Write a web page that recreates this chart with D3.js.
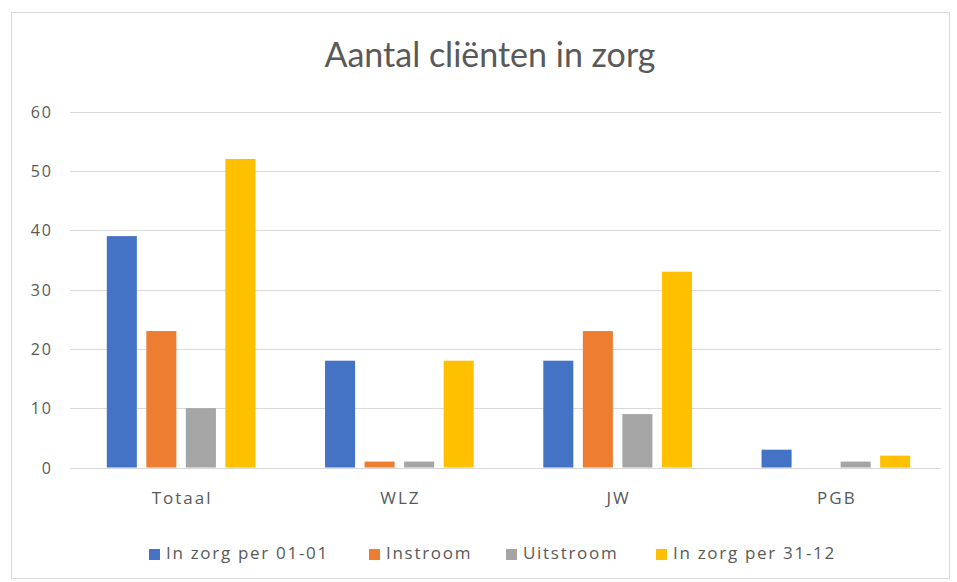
<!DOCTYPE html>
<html>
<head>
  <meta charset="utf-8">
  <title>Aantal cliënten in zorg</title>
  <script src="https://d3js.org/d3.v7.min.js"></script>
  <style>
    html, body {
      margin: 0;
      padding: 0;
      background: #fff;
    }
    .text {
      font-family: "Open Sans", sans-serif;
      fill: #595959;
    }
    .title {
      font-family: Lato, "Open Sans", sans-serif;
      fill: #595959;
    }
  </style>
</head>
<body>
  <svg id="chart" width="957" height="582"></svg>

  <script>
    // data
    const categories = ["Totaal", "WLZ", "JW", "PGB"];
    const seriesNames = ["In zorg per 01-01", "Instroom", "Uitstroom", "In zorg per 31-12"];
    const zorgBegin = [39, 18, 18, 3];
    const instroom = [23, 1, 23, 0];
    const uitstroom = [10, 1, 9, 1];
    const zorgEind = [52, 18, 33, 2];
    const yTicks = [0, 10, 20, 30, 40, 50, 60];
    const colors = ["#4472C4", "#ED7D31", "#A5A5A5", "#FFC000"];

    const series = [zorgBegin, instroom, uitstroom, zorgEind];

    const svg = d3.select("#chart");

    // chart frame
    svg.append("rect")
      .attr("x", 11.5)
      .attr("y", 12.5)
      .attr("width", 938)
      .attr("height", 566)
      .attr("fill", "#fff")
      .attr("stroke", "#d9d9d9");

    const gridLeft = 70, gridRight = 941;

    const x = d3.scaleBand().domain(categories).range([72, 945]);
    const xInner = d3.scaleBand().domain(d3.range(series.length)).range([0, x.bandwidth()])
      .paddingInner(0.24).paddingOuter(0.88);
    const y = d3.scaleLinear().domain([0, 60]).range([467.5, 111.5]);

    // gridlines
    svg.append("g")
      .selectAll("line")
      .data(yTicks)
      .join("line")
      .attr("x1", gridLeft)
      .attr("x2", gridRight)
      .attr("y1", d => Math.round(y(d)) + 0.5)
      .attr("y2", d => Math.round(y(d)) + 0.5)
      .attr("stroke", "#d9d9d9")
      .attr("stroke-width", 1);

    // y labels
    svg.append("g")
      .selectAll("text")
      .data(yTicks)
      .join("text")
      .attr("class", "text")
      .attr("x", 53)
      .attr("y", d => y(d) + 6)
      .attr("text-anchor", "end")
      .style("font-size", "16px")
      .style("letter-spacing", "2px")
      .text(d => d);

    // bars
    series.forEach((vals, si) => {
      svg.append("g")
        .selectAll("rect")
        .data(vals)
        .join("rect")
        .attr("x", (d, i) => x(categories[i]) + xInner(si))
        .attr("y", d => y(d))
        .attr("width", xInner.bandwidth())
        .attr("height", d => y(0) - y(d))
        .attr("fill", colors[si]);
    });

    // category labels
    svg.append("g")
      .selectAll("text")
      .data(categories)
      .join("text")
      .attr("class", "text")
      .attr("x", d => x(d) + x.bandwidth() / 2 + 1)
      .attr("y", 504)
      .attr("text-anchor", "middle")
      .style("font-size", "17px")
      .style("letter-spacing", "2px")
      .text(d => d);

    // title
    svg.append("text")
      .attr("class", "title")
      .attr("x", 490)
      .attr("y", 67)
      .attr("text-anchor", "middle")
      .style("font-size", "34px")
      .text("Aantal cliënten in zorg");

    // legend
    const legendX = [149, 369, 506, 656];
    const legend = svg.append("g")
      .selectAll("g")
      .data(seriesNames)
      .join("g")
      .attr("transform", (d, i) => "translate(" + legendX[i] + ",559)");

    legend.append("rect")
      .attr("x", 0)
      .attr("y", -10)
      .attr("width", 11)
      .attr("height", 11)
      .attr("fill", (d, i) => colors[i]);

    legend.append("text")
      .attr("class", "text")
      .attr("x", 17)
      .attr("y", 0)
      .style("font-size", "17px")
      .style("letter-spacing", "1.7px")
      .text(d => d);
  </script>
</body>
</html>
